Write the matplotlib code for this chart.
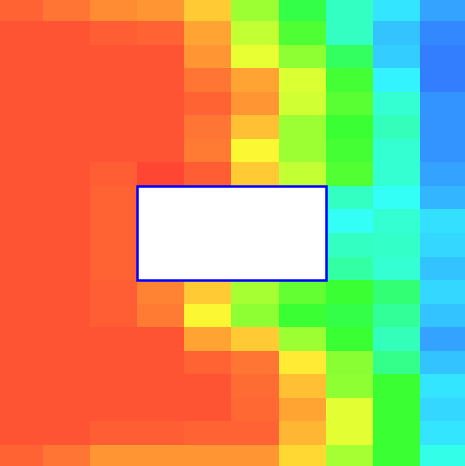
import numpy as np
import matplotlib
matplotlib.use("Agg")
import matplotlib.pyplot as plt
import matplotlib.patches as mpatches

# field values (hue-like, degrees), rows top -> bottom, 10 columns
# nan = cells hidden under the obstacle
nan = np.nan
values = [
    [15, 20, 27, 30, 45, 90, 128, 165, 190, 210],
    [10, 11, 13, 15, 35, 80, 115, 165, 200, 218],
    [10, 10, 10, 10, 30, 68, 95, 135, 197, 222],
    [10, 10, 10, 10, 20, 35, 72, 118, 187, 222],
    [10, 10, 10, 10, 15, 30, 75, 110, 170, 215],
    [10, 10, 10, 10, 20, 43, 90, 120, 162, 215],
    [10, 10, 11, 11, 22, 60, 90, 117, 170, 215],
    [10, 10, 13, 7, 13, 45, 80, 113, 170, 210],
    [10, 10, 15, nan, nan, nan, nan, 165, 180, 205],
    [10, 10, 15, nan, nan, nan, nan, 180, 170, 192],
    [10, 10, 15, nan, nan, nan, nan, 165, 166, 195],
    [10, 10, 15, nan, nan, nan, nan, 155, 170, 200],
    [10, 10, 13, 25, 45, 88, 107, 120, 142, 195],
    [10, 10, 14, 22, 60, 95, 120, 128, 152, 200],
    [10, 10, 10, 10, 35, 45, 90, 120, 162, 210],
    [10, 10, 10, 10, 15, 20, 55, 97, 148, 200],
    [10, 10, 10, 10, 10, 18, 43, 95, 120, 190],
    [10, 10, 10, 10, 10, 16, 35, 70, 120, 195],
    [10, 11, 13, 13, 15, 15, 40, 70, 120, 190],
    [15, 20, 30, 30, 30, 30, 50, 88, 120, 177],
]
# obstacle: columns 3..6, rows 8..11
obstacle = (3, 8, 4, 4)

field = np.ma.masked_invalid(np.array(values, dtype=float))

fig = plt.figure(figsize=(4.65, 4.66), dpi=100)
ax = fig.add_axes([0, 0, 1, 1])

ax.pcolormesh(np.arange(11), np.arange(21), field, cmap="hsv",
              vmin=0, vmax=360, alpha=0.8, edgecolors="none", antialiased=False)

x0, y0, w, h = obstacle
ax.add_patch(mpatches.Rectangle((x0, y0), w, h, facecolor="white",
                                edgecolor="#0000ff", lw=1.8, zorder=5))

ax.set_xlim(0.0875, 9.955)
ax.set_ylim(19.89, 0.108)
ax.axis("off")

fig.savefig("out.png", dpi=100)
